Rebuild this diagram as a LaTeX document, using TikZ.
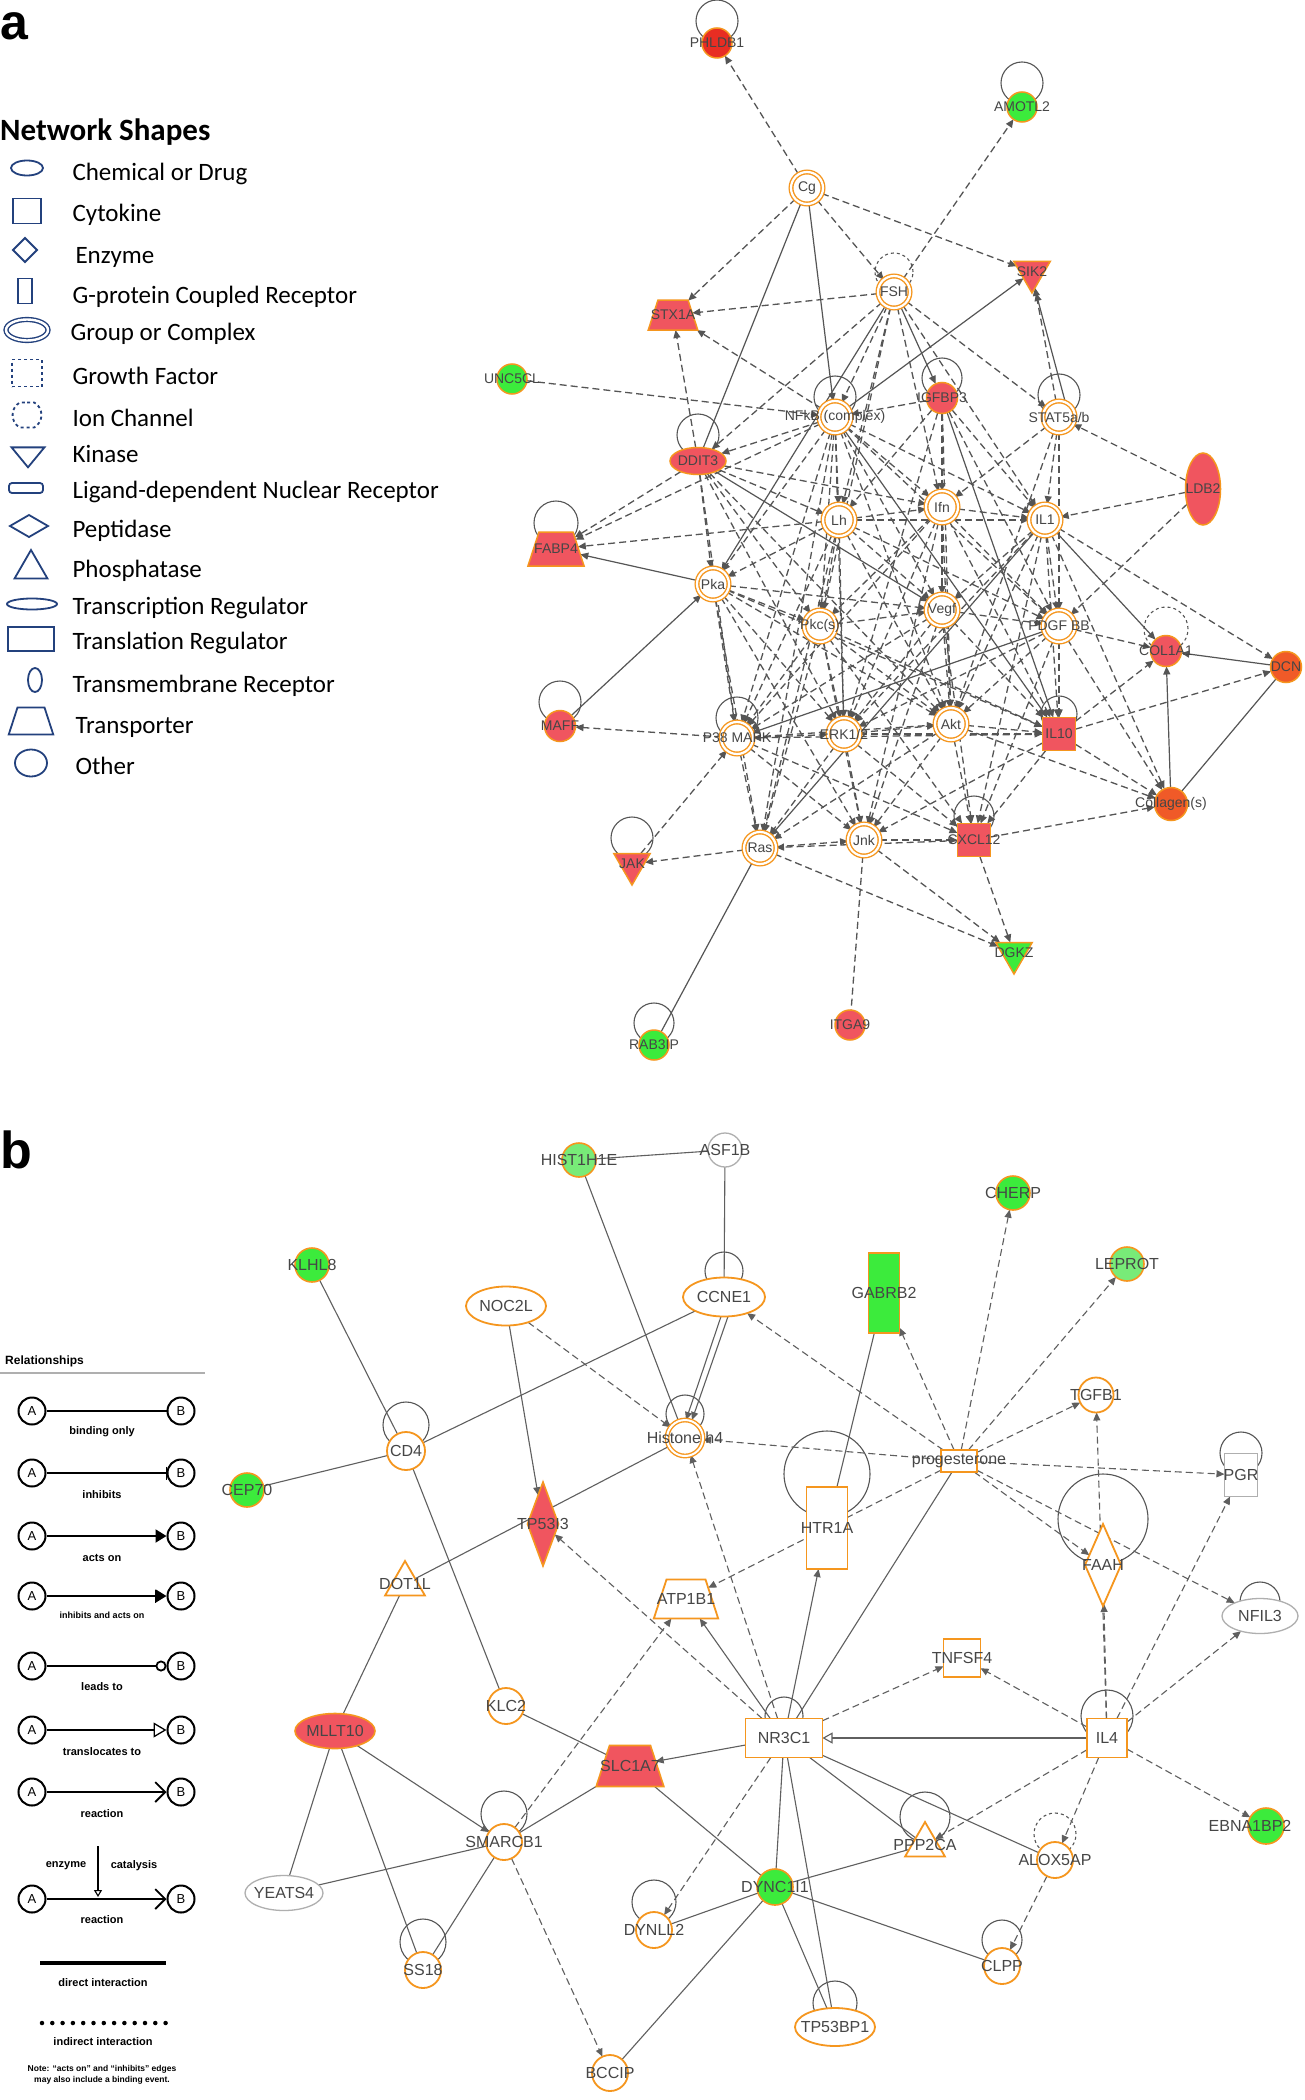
\documentclass[tikz,border=0pt]{standalone}
\usepackage{fontspec}
\setmainfont{Liberation Sans}
\newfontfamily\legfont{Carlito}
\usetikzlibrary{shapes.geometric,shapes.misc,arrows.meta,calc,backgrounds}
\definecolor{ipaorange}{RGB}{245,150,30}
\definecolor{ipared}{RGB}{240,85,95}
\definecolor{ipared2}{RGB}{232,45,35}
\definecolor{ipaorred}{RGB}{240,90,40}
\definecolor{ipagreen}{RGB}{60,235,60}
\definecolor{ipagreenL}{RGB}{120,235,120}
\definecolor{edgeA}{RGB}{85,85,85}
\definecolor{edgeB}{RGB}{95,95,95}
\definecolor{legblue}{RGB}{35,65,125}
\definecolor{lblgray}{RGB}{70,70,70}
\definecolor{paleb}{RGB}{175,175,175}
\tikzset{
  base/.style={inner sep=0pt, outer sep=0pt},
  lblA/.style={font=\fontsize{14}{14}\selectfont, text=lblgray},
  lblB/.style={font=\fontsize{16}{16}\selectfont, text=lblgray},
  hub/.style={base, circle, minimum size=32pt, draw=ipaorange, line width=1.4pt, double=white, double distance=2.2pt, fill=white},
  redA/.style={base, fill=ipared, draw=ipaorange, line width=1.5pt},
  greenA/.style={base, fill=ipagreen, draw=ipaorange, line width=1.5pt},
  kin/.style={regular polygon, regular polygon sides=3, shape border rotate=180, minimum size=42pt},
  trans/.style={trapezium, trapezium left angle=72, trapezium right angle=72, inner sep=1pt},
  dashA/.style={draw=edgeA, line width=1.3pt, dash pattern=on 7pt off 4pt, -{Triangle[length=8pt,width=7pt]}},
  solA/.style={draw=edgeA, line width=1.2pt, -{Triangle[length=8pt,width=7pt]}},
  loopst/.style={draw=edgeA, line width=1.1pt},
  ob/.style={base, draw=ipaorange, line width=1.8pt, fill=white},
  gb/.style={base, draw=paleb, line width=1.3pt, fill=white},
  dashB/.style={draw=edgeB, line width=1.1pt, dash pattern=on 7pt off 4pt, -{Triangle[length=8pt,width=7pt]}},
  solB/.style={draw=edgeB, line width=1.1pt, -{Triangle[length=8pt,width=7pt]}},
  lineB/.style={draw=edgeB, line width=1.1pt},
  legt/.style={font=\legfont\fontsize{25}{25}\selectfont, anchor=base west},
  icon/.style={base, draw=legblue, line width=1.8pt},
  abc/.style={circle, draw=black, line width=2pt, minimum size=27pt, inner sep=0pt, font=\fontsize{13}{13}\selectfont},
  relt/.style={font=\bfseries\fontsize{11}{11}\selectfont},
  relline/.style={draw=black, line width=2pt}
}
\newcommand{\sloop}[4][]{\draw[loopst,#1] ($(#2.center)+(0,-#3)$) circle[radius=#4pt];}
\begin{document}
\begin{tikzpicture}[x=1pt,y=-1pt]
\begin{pgfonlayer}{background}
\fill[white] (0,0) rectangle (1305,2100);
\end{pgfonlayer}
\useasboundingbox (0,0) rectangle (1305,2100);

% ================= panel labels
\node[font=\bfseries\fontsize{50}{50}\selectfont, anchor=base west, inner sep=0pt] (pa) at (0,40) {a};
\node[font=\bfseries\fontsize{52}{52}\selectfont, anchor=base west, inner sep=0pt] (pb) at (0,1168) {b};

% ================= legend a
\node[font=\legfont\bfseries\fontsize{31}{31}\selectfont, anchor=base west, inner sep=0pt] (nsh) at (0,141) {Network Shapes};
\node[icon, ellipse, minimum width=32pt, minimum height=15pt] (i1) at (27,168) {};
\node[legt] (t1) at (69,181) {Chemical or Drug};
\node[icon, rectangle, minimum width=28pt, minimum height=25pt] (i2) at (27,211) {};
\node[legt] (t2) at (69,222) {Cytokine};
\node[icon, diamond, minimum width=24pt, minimum height=24pt] (i3) at (25,250) {};
\node[legt] (t3) at (72,263) {Enzyme};
\node[icon, rectangle, minimum width=14pt, minimum height=25pt] (i4) at (25,291) {};
\node[legt] (t4) at (69,303) {G-protein Coupled Receptor};
\node[icon, ellipse, minimum width=42pt, minimum height=21pt, double=white, double distance=2.4pt, line width=1.4pt] (i5) at (27,330) {};
\node[legt] (t5) at (67,340) {Group or Complex};
\node[icon, rectangle, dashed, minimum width=30pt, minimum height=27pt] (i6) at (27,373) {};
\node[legt] (t6) at (69,384) {Growth Factor};
\node[icon, rounded rectangle, dashed, minimum width=15pt, minimum height=25pt, rounded rectangle arc length=120] (i7) at (27,415) {};
\node[legt] (t7) at (69,426) {Ion Channel};
\node[icon, kin, minimum size=38pt, yscale=0.7] (i8) at (28,454) {};
\node[legt] (t8) at (69,462) {Kinase};
\node[icon, rounded corners=3pt, rectangle, minimum width=34pt, minimum height=10pt] (i9) at (26,488) {};
\node[legt] (t9) at (69,498) {Ligand-dependent Nuclear Receptor};
\node[icon, diamond, minimum width=38pt, minimum height=22pt] (i10) at (29,526) {};
\node[legt] (t10) at (69,537) {Peptidase};
\node[icon, regular polygon, regular polygon sides=3, minimum size=38pt] (i11) at (31,569) {};
\node[legt] (t11) at (69,577) {Phosphatase};
\node[icon, ellipse, minimum width=50pt, minimum height=11pt] (i12) at (32,604) {};
\node[legt] (t12) at (69,614) {Transcription Regulator};
\node[icon, chamfered rectangle, chamfered rectangle xsep=8pt, minimum width=46pt, minimum height=24pt] (i13) at (31,639) {};
\node[legt] (t13) at (69,649) {Translation Regulator};
\node[icon, ellipse, minimum width=14pt, minimum height=24pt] (i14) at (35,680) {};
\node[legt] (t14) at (69,692) {Transmembrane Receptor};
\node[icon, trans, minimum width=32pt, minimum height=27pt] (i15) at (31,721) {};
\node[legt] (t15) at (72,733) {Transporter};
\node[icon, ellipse, minimum width=32pt, minimum height=27pt] (i16) at (31,763) {};
\node[legt] (t16) at (72,774) {Other};

% ================= panel a nodes
\node[redA,circle,minimum size=30pt,fill=ipared2,label={[lblA]center:PHLDB1}] (PHLDB1) at (717,43) {};
\node[greenA,circle,minimum size=30pt,label={[lblA]center:AMOTL2}] (AMOTL2) at (1022,107) {};
\node[hub,label={[lblA]center:Cg}] (Cg) at (807,188) {};
\node[hub,label={[lblA]center:FSH}] (FSH) at (894,292) {};
\node[redA,trans,minimum width=32pt,minimum height=30pt,label={[lblA]center:STX1A}] (STX) at (673,315) {};
\node[redA,kin,label={[lblA]center:SIK2}] (SIK2) at (1032,272) {};
\node[greenA,circle,minimum size=30pt,label={[lblA]center:UNC5CL}] (UNC5CL) at (512,379) {};
\node[hub,label={[lblA]center:NFkB (complex)}] (NFkB) at (835,417) {};
\node[redA,circle,minimum size=31pt,label={[lblA]center:IGFBP3}] (IGFBP3) at (942,398) {};
\node[hub,label={[lblA]center:STAT5a/b}] (STAT5) at (1059,417) {};
\node[redA,ellipse,minimum width=56pt,minimum height=27pt,label={[lblA]center:DDIT3}] (DDIT3) at (698,461) {};
\node[redA,ellipse,minimum width=35pt,minimum height=72pt,label={[lblA]center:LDB2}] (LDB2) at (1203,489) {};
\node[redA,trans,minimum width=32pt,minimum height=34pt,label={[lblA]center:FABP4}] (FABP4) at (556,549) {};
\node[hub,label={[lblA]center:Lh}] (H1) at (839,520) {};
\node[hub,label={[lblA]center:Ifn}] (H2) at (942,507) {};
\node[hub,label={[lblA]center:IL1}] (H3) at (1045,520) {};
\node[hub,label={[lblA]center:Pka}] (Pka) at (713,584) {};
\node[hub,label={[lblA]center:Pkc(s)}] (H4) at (820,626) {};
\node[hub,label={[lblA]center:Vegf}] (H5) at (942,610) {};
\node[hub,label={[lblA]center:PDGF BB}] (PDGF) at (1059,626) {};
\node[redA,circle,minimum size=31pt,label={[lblA]center:COL1A1}] (COL1A1) at (1166,651) {};
\node[redA,circle,minimum size=31pt,fill=ipaorred,label={[lblA]center:DCN}] (DCN) at (1286,667) {};
\node[redA,circle,minimum size=31pt,label={[lblA]center:MAFF}] (MAFF) at (560,726) {};
\node[hub,label={[lblA]center:P38 MAPK}] (P38) at (737,738) {};
\node[hub,label={[lblA]center:ERK1/2}] (ERK) at (844,734) {};
\node[hub,label={[lblA]center:Akt}] (Akt) at (951,724) {};
\node[redA,rectangle,minimum size=33pt,label={[lblA]center:IL10}] (IL10) at (1059,734) {};
\node[redA,circle,minimum size=33pt,fill=ipaorred,label={[lblA]center:Collagen(s)}] (Coll) at (1171,804) {};
\node[redA,kin,label={[lblA]center:JAK}] (JAK) at (632,864) {};
\node[hub,label={[lblA]center:Ras}] (Ras) at (760,848) {};
\node[hub,label={[lblA]center:Jnk}] (H6) at (864,840) {};
\node[redA,rectangle,minimum size=33pt,label={[lblA]center:CXCL12}] (CXCL12) at (974,840) {};
\node[greenA,kin,label={[lblA]center:DGKZ}] (DGKZ) at (1014,953) {};
\node[redA,circle,minimum size=30pt,label={[lblA]center:ITGA9}] (ITGA9) at (850,1025) {};
\node[greenA,circle,minimum size=30pt,label={[lblA]center:RAB3IP}] (RAB3IP) at (654,1045) {};

% ================= legend b
\node[font=\bfseries\fontsize{12}{12}\selectfont, anchor=base west, inner sep=0pt] (relh) at (5,1364) {Relationships};
\coordinate (ul1) at (0,1373); \coordinate (ul2) at (205,1373);
\draw[draw=paleb, line width=1.2pt] (ul1) -- (ul2);
\node[abc] (A1) at (32,1411) {A}; \node[abc] (B1) at (181,1411) {B};
\draw[relline] (A1) -- (B1);
\node[relt] (r1) at (102,1432) {binding only};
\node[abc] (A2) at (32,1473) {A}; \node[abc] (B2) at (181,1473) {B};
\draw[relline,-{Bar[width=13pt,line width=1pt]}] (A2) -- (B2);
\node[relt] (r2) at (102,1495) {inhibits};
\node[abc] (A3) at (32,1536) {A}; \node[abc] (B3) at (181,1536) {B};
\draw[relline,-{Triangle[length=11pt,width=13pt]}] (A3) -- (B3);
\node[relt] (r3) at (102,1558) {acts on};
\node[abc] (A4) at (32,1596) {A}; \node[abc] (B4) at (181,1596) {B};
\draw[relline,-{Bar[width=13pt,line width=1pt]Triangle[length=11pt,width=13pt]}] (A4) -- (B4);
\node[relt, font=\bfseries\fontsize{9}{9}\selectfont] (r4) at (102,1615) {inhibits and acts on};
\node[abc] (A5) at (32,1666) {A}; \node[abc] (B5) at (181,1666) {B};
\draw[relline,line width=1.5pt,-{Circle[open,length=11pt,width=11pt,line width=1.8pt]}] (A5) -- (B5);
\node[relt] (r5) at (102,1687) {leads to};
\node[abc] (A6) at (32,1730) {A}; \node[abc] (B6) at (181,1730) {B};
\draw[relline,-{Triangle[open,length=13pt,width=15pt,line width=1.3pt]}] (A6) -- (B6);
\node[relt] (r6) at (102,1752) {translocates to};
\node[abc] (A7) at (32,1792) {A}; \node[abc] (B7) at (181,1792) {B};
\draw[relline,-{Straight Barb[length=10pt,width=20pt,line width=1.8pt]}] (A7) -- (B7);
\node[relt] (r7) at (102,1814) {reaction};
\node[abc] (A8) at (32,1899) {A}; \node[abc] (B8) at (181,1899) {B};
\draw[relline,-{Straight Barb[length=10pt,width=20pt,line width=1.8pt]}] (A8) -- (B8);
\coordinate (E1) at (98,1846); \coordinate (E2) at (98,1897);
\draw[draw=black, line width=1.1pt, -{Triangle[open,length=7pt,width=8pt]}] (E1) -- (E2);
\node[relt] (r8a) at (66,1866) {enzyme};
\node[relt] (r8b) at (134,1866) {catalysis};
\node[relt] (r8) at (102,1920) {reaction};
\coordinate (D1) at (40,1963); \coordinate (D2) at (166,1963);
\draw[draw=black, line width=4.5pt] (D1) -- (D2);
\node[relt] (r9) at (103,1983) {direct interaction};
\coordinate (I1) at (42,2023); \coordinate (I2) at (166,2023);
\draw[draw=black, line width=4.5pt, line cap=round, dash pattern=on 0pt off 10.3pt] (I1) -- (I2);
\node[relt] (r10) at (103,2042) {indirect interaction};
\node[relt, font=\bfseries\fontsize{8.5}{8.5}\selectfont, align=center] (note) at (102,2075) {Note: ``acts on'' and ``inhibits'' edges\\[3pt] may also include a binding event.};

% ================= panel b nodes
\node[base,circle,minimum size=34pt,fill=ipagreenL,draw=ipaorange,line width=1.6pt,label={[lblB]center:HIST1H1E}] (HIST) at (579,1160) {};
\node[gb,circle,minimum size=34pt,label={[lblB]center:ASF1B}] (ASF1B) at (725,1150) {};
\node[base,circle,minimum size=34pt,fill=ipagreen,draw=ipaorange,line width=1.6pt,label={[lblB]center:CHERP}] (CHERP) at (1013,1193) {};
\node[base,circle,minimum size=34pt,fill=ipagreen,draw=ipaorange,line width=1.6pt,label={[lblB]center:KLHL8}] (KLHL8) at (312,1265) {};
\node[base,rectangle,minimum width=31pt,minimum height=80pt,fill=ipagreen,draw=ipaorange,line width=1.3pt,label={[lblB]center:GABRB2}] (GABRB2) at (884,1293) {};
\node[base,circle,minimum size=34pt,fill=ipagreenL,draw=ipaorange,line width=1.6pt,label={[lblB]center:LEPROT}] (LEPROT) at (1127,1264) {};
\node[ob,ellipse,minimum width=80pt,minimum height=39pt,label={[lblB]center:NOC2L}] (NOC2L) at (506,1306) {};
\node[ob,ellipse,minimum width=82pt,minimum height=39pt,label={[lblB]center:CCNE1}] (CCNE1) at (724,1297) {};
\node[ob,circle,minimum size=35pt,label={[lblB]center:TGFB1}] (TGFB1) at (1096,1395) {};
\node[ob,circle,minimum size=38pt,label={[lblB]center:CD4}] (CD4) at (406,1451) {};
\node[base,circle,minimum size=34pt,fill=ipagreen,draw=ipaorange,line width=1.6pt,label={[lblB]center:CEP70}] (CEP70) at (247,1490) {};
\node[base,circle,minimum size=36pt,draw=ipaorange,line width=1.4pt,double=white,double distance=2pt,fill=white,label={[lblB]center:Histone h4}] (Hist4) at (685,1438) {};
\node[ob,chamfered rectangle,chamfered rectangle xsep=6pt,minimum width=36pt,minimum height=22pt,label={[lblB]center:progesterone}] (prog) at (959,1461) {};
\node[gb,rectangle,minimum width=33pt,minimum height=43pt,label={[lblB]center:PGR}] (PGR) at (1241,1475) {};
\node[base,diamond,minimum width=31pt,minimum height=84pt,fill=ipared,draw=ipaorange,line width=1.6pt,label={[lblB]center:TP53I3}] (TP53I3) at (543,1524) {};
\node[ob,rectangle,minimum width=41pt,minimum height=82pt,label={[lblB]center:HTR1A}] (HTR1A) at (827,1528) {};
\node[ob,diamond,minimum width=36pt,minimum height=82pt,label={[lblB]center:FAAH}] (FAAH) at (1103,1565) {};
\node[ob,regular polygon,regular polygon sides=3,minimum size=46pt,label={[lblB]center:DOT1L}] (DOT1L) at (405,1584) {};
\node[ob,trans,minimum width=33pt,minimum height=39pt,label={[lblB]center:ATP1B1}] (ATP1B1) at (686,1599) {};
\node[gb,ellipse,minimum width=76pt,minimum height=35pt,label={[lblB]center:NFIL3}] (NFIL3) at (1260,1616) {};
\node[ob,rectangle,minimum width=37pt,minimum height=38pt,label={[lblB]center:TNFSF4}] (TNFSF4) at (962,1658) {};
\node[ob,circle,minimum size=36pt,label={[lblB]center:KLC2}] (KLC2) at (506,1706) {};
\node[base,ellipse,minimum width=80pt,minimum height=35pt,fill=ipared,draw=ipaorange,line width=1.6pt,label={[lblB]center:MLLT10}] (MLLT10) at (335,1731) {};
\node[ob,rectangle,minimum width=77pt,minimum height=39pt,label={[lblB]center:NR3C1}] (NR3C1) at (784,1738) {};
\node[ob,rectangle,minimum width=40pt,minimum height=39pt,label={[lblB]center:IL4}] (IL4) at (1107,1738) {};
\node[base,trans,minimum width=36pt,minimum height=41pt,fill=ipared,draw=ipaorange,line width=1.6pt,label={[lblB]center:SLC1A7}] (SLC1A7) at (630,1766) {};
\node[base,circle,minimum size=36pt,fill=ipagreen,draw=ipaorange,line width=1.6pt,label={[lblB,xshift=-16pt]center:EBNA1BP2}] (EBNA1BP2) at (1266,1826) {};
\node[ob,circle,minimum size=36pt,label={[lblB]center:SMARCB1}] (SMARCB1) at (504,1842) {};
\node[ob,regular polygon,regular polygon sides=3,minimum size=46pt,label={[lblB]center:PPP2CA}] (PPP) at (925,1845) {};
\node[ob,circle,minimum size=36pt,label={[lblB]center:ALOX5AP}] (ALOX5AP) at (1055,1860) {};
\node[gb,ellipse,minimum width=78pt,minimum height=35pt,label={[lblB]center:YEATS4}] (YEATS4) at (284,1893) {};
\node[base,circle,minimum size=36pt,fill=ipagreen,draw=ipaorange,line width=1.6pt,label={[lblB]center:DYNC1I1}] (DYNC1I1) at (775,1887) {};
\node[ob,circle,minimum size=36pt,label={[lblB]center:DYNLL2}] (DYNLL2) at (654,1930) {};
\node[ob,circle,minimum size=36pt,label={[lblB]center:SS18}] (SS18) at (423,1970) {};
\node[ob,circle,minimum size=36pt,label={[lblB]center:CLPP}] (CLPP) at (1002,1966) {};
\node[ob,ellipse,minimum width=80pt,minimum height=38pt,label={[lblB]center:TP53BP1}] (TP53BP1) at (835,2027) {};
\node[ob,circle,minimum size=36pt,label={[lblB]center:BCCIP}] (BCCIP) at (610,2073) {};

% ================= edges (behind nodes)
\begin{pgfonlayer}{background}
% ---- panel a self loops
\sloop{PHLDB1}{22}{21}
\sloop{AMOTL2}{24}{21}
\sloop[dashed]{FSH}{20}{19}
\sloop{IGFBP3}{20}{20}
\sloop{STAT5}{22}{21}
\sloop{NFkB}{20}{21}
\sloop{DDIT3}{26}{21}
\sloop{FABP4}{26}{22}
\sloop{MAFF}{24}{21}
\sloop[dashed]{COL1A1}{22}{22}
\sloop{P38}{20}{21}
\sloop{JAK}{26}{21}
\sloop{RAB3IP}{22}{20}
\sloop{CXCL12}{24}{20}
\sloop{IL10}{20}{18}
% ---- panel a periphery
\draw[dashA] (Cg) -- (PHLDB1);
\draw[dashA] (Cg) -- (STX);
\draw[dashA] (Cg) -- (FSH);
\draw[solA] (Cg) -- (NFkB);
\draw[draw=edgeA,line width=1.2pt] (Cg) -- (DDIT3);
\draw[dashA] (Cg) -- (SIK2);
\draw[dashA] (FSH) -- (STX);
\draw[dashA] (FSH) -- (AMOTL2);
\draw[solA] (FSH) -- (IGFBP3);
\draw[dashA] (NFkB) -- (STX);
\draw[dashA] (DDIT3) -- (STX);
\draw[dashA] (UNC5CL) -- (NFkB);
\draw[solA] (NFkB) -- (SIK2);
\draw[dashA] (STAT5) -- (SIK2);
\draw[solA] ([xshift=6pt]STAT5.north) -- ([xshift=4pt]SIK2.south);
\draw[dashA] (LDB2) -- (STAT5);
\draw[dashA] (LDB2) -- (H3);
\draw[dashA] (LDB2) -- (PDGF);
\draw[dashA] (DDIT3) -- (FABP4);
\draw[dashA] (NFkB) -- (FABP4);
\draw[dashA] (H1) -- (FABP4);
\draw[solA] (Pka) -- (FABP4);
\draw[solA] (MAFF) -- (Pka);
\draw[dashA] (P38) -- (MAFF);
\draw[solA] (H3) -- (COL1A1);
\draw[dashA] (PDGF) -- (COL1A1);
\draw[dashA] (IL10) -- (COL1A1);
\draw[solA] (DCN) -- (COL1A1);
\draw[solA] (Coll) -- (COL1A1);
\draw[draw=edgeA,line width=1.2pt] (Coll) -- (DCN);
\draw[dashA] (H3) -- (DCN);
\draw[dashA] (IL10) -- (DCN);
\draw[dashA] (PDGF) -- (Coll);
\draw[dashA] (IL10) -- (Coll);
\draw[dashA] (CXCL12) -- (Coll);
\draw[dashA] (Akt) -- (Coll);
\draw[dashA] (Ras) -- (JAK);
\draw[dashA] (JAK) -- (P38);
\draw[draw=edgeA,line width=1.2pt] (Ras) -- (RAB3IP);
\draw[draw=edgeA,line width=1.3pt,dash pattern=on 7pt off 4pt] (H6) -- (ITGA9);
\draw[dashA] (CXCL12) -- (DGKZ);
\draw[dashA] (Ras) -- (DGKZ);
\draw[dashA] (H6) -- (DGKZ);
% ---- panel a mesh
\foreach \s/\t in {FSH/NFkB,FSH/H1,FSH/H2,FSH/H3,FSH/DDIT3,FSH/H4,FSH/STAT5,
  NFkB/DDIT3,NFkB/H1,NFkB/Pka,NFkB/H4,NFkB/H2,NFkB/P38,NFkB/ERK,NFkB/Akt,NFkB/H3,NFkB/Ras,NFkB/H5,
  IGFBP3/H2,IGFBP3/H1,IGFBP3/H5,IGFBP3/Akt,IGFBP3/ERK,IGFBP3/H3,IGFBP3/NFkB,IGFBP3/PDGF,
  STAT5/H3,STAT5/PDGF,STAT5/H2,STAT5/IL10,STAT5/Akt,
  DDIT3/Pka,DDIT3/H1,DDIT3/H4,DDIT3/P38,DDIT3/Akt,DDIT3/H2,
  H1/H2,H1/H3,H1/H4,H1/H5,H1/ERK,H1/Pka,H1/PDGF,H1/Akt,H1/P38,
  H2/H3,H2/H5,H2/Akt,H2/PDGF,H2/ERK,H2/H4,H2/IL10,H2/P38,
  H3/PDGF,H3/IL10,H3/H5,H3/Coll,H3/Akt,H3/ERK,
  Pka/H4,Pka/P38,Pka/ERK,Pka/H5,Pka/Ras,Pka/Akt,
  H4/H5,H4/ERK,H4/P38,H4/Akt,H4/Ras,H4/H6,H4/IL10,
  H5/PDGF,H5/Akt,H5/ERK,H5/IL10,H5/H6,H5/CXCL12,H5/P38,
  PDGF/IL10,PDGF/Akt,PDGF/CXCL12,PDGF/ERK,
  P38/ERK,P38/Ras,P38/H6,P38/Akt,P38/CXCL12,
  ERK/Akt,ERK/Ras,ERK/H6,ERK/CXCL12,ERK/IL10,
  Akt/IL10,Akt/H6,Akt/CXCL12,Akt/Ras,
  IL10/CXCL12,IL10/H6,IL10/P38,Ras/H6,H6/CXCL12,CXCL12/Ras,
  Pka/H6,H1/Ras,H2/H6,H3/CXCL12,NFkB/PDGF,DDIT3/ERK,H4/CXCL12,Pka/IL10}
  \draw[dashA] (\s) -- (\t);
\foreach \s/\t in {DDIT3/H5,NFkB/IL10,IGFBP3/IL10,FSH/Pka,H3/Ras,PDGF/P38}
  \draw[solA] (\s) -- (\t);

% ---- panel b self loops
\sloop{CCNE1}{26}{19}
\sloop{CD4}{26}{23}
\sloop{Hist4}{24}{19}
\sloop{HTR1A}{54}{43}
\sloop{FAAH}{46}{45}
\sloop{PGR}{22}{21}
\sloop{NFIL3}{14}{20}
\sloop{IL4}{22}{26}
\sloop[dashed]{ALOX5AP}{26}{21}
\sloop{CLPP}{26}{20}
\sloop{PPP}{28}{25}
\sloop{NR3C1}{22}{19}
\sloop{SMARCB1}{28}{23}
\sloop{SS18}{28}{23}
\sloop{DYNLL2}{28}{22}
\sloop{TP53BP1}{24}{22}
% ---- panel b edges
\foreach \s/\t in {HIST/ASF1B,HIST/Hist4,ASF1B/CCNE1,CCNE1/CD4,KLHL8/CD4,CEP70/CD4,CD4/KLC2,
  DOT1L/Hist4,DOT1L/MLLT10,MLLT10/YEATS4,MLLT10/SS18,SMARCB1/YEATS4,SMARCB1/SS18,
  KLC2/SLC1A7,SLC1A7/DYNC1I1,SMARCB1/SLC1A7,prog/NR3C1,GABRB2/HTR1A,
  NR3C1/DYNC1I1,NR3C1/TP53BP1,NR3C1/PPP,NR3C1/ALOX5AP,DYNC1I1/PPP,DYNC1I1/TP53BP1,
  DYNC1I1/CLPP,DYNC1I1/BCCIP,DYNC1I1/DYNLL2}
  \draw[lineB] (\s) -- (\t);
\foreach \s/\t in {NR3C1/HTR1A,NR3C1/ATP1B1,NR3C1/SLC1A7,MLLT10/SMARCB1,NOC2L/TP53I3}
  \draw[solB] (\s) -- (\t);
\draw[solB] ([xshift=-3pt]CCNE1.south) -- ([xshift=1pt]Hist4.north);
\draw[solB] ([xshift=4pt]CCNE1.south) -- ([xshift=7pt]Hist4.north);
\draw[draw=edgeB, line width=1.9pt, -{Triangle[open,length=10pt,width=11pt,line width=1.1pt]}] (IL4) -- (NR3C1);
\foreach \s/\t in {NOC2L/Hist4,prog/Hist4,prog/CCNE1,prog/GABRB2,prog/CHERP,prog/LEPROT,
  prog/TGFB1,prog/PGR,prog/FAAH,prog/NFIL3,prog/ATP1B1,NR3C1/TP53I3,NR3C1/Hist4,
  NR3C1/TNFSF4,IL4/TNFSF4,IL4/TGFB1,IL4/FAAH,IL4/PGR,IL4/NFIL3,IL4/EBNA1BP2,IL4/ALOX5AP,
  IL4/PPP,ALOX5AP/CLPP,NR3C1/DYNLL2,SMARCB1/BCCIP,SMARCB1/ATP1B1}
  \draw[dashB] (\s) -- (\t);
\end{pgfonlayer}
\end{tikzpicture}
\end{document}
